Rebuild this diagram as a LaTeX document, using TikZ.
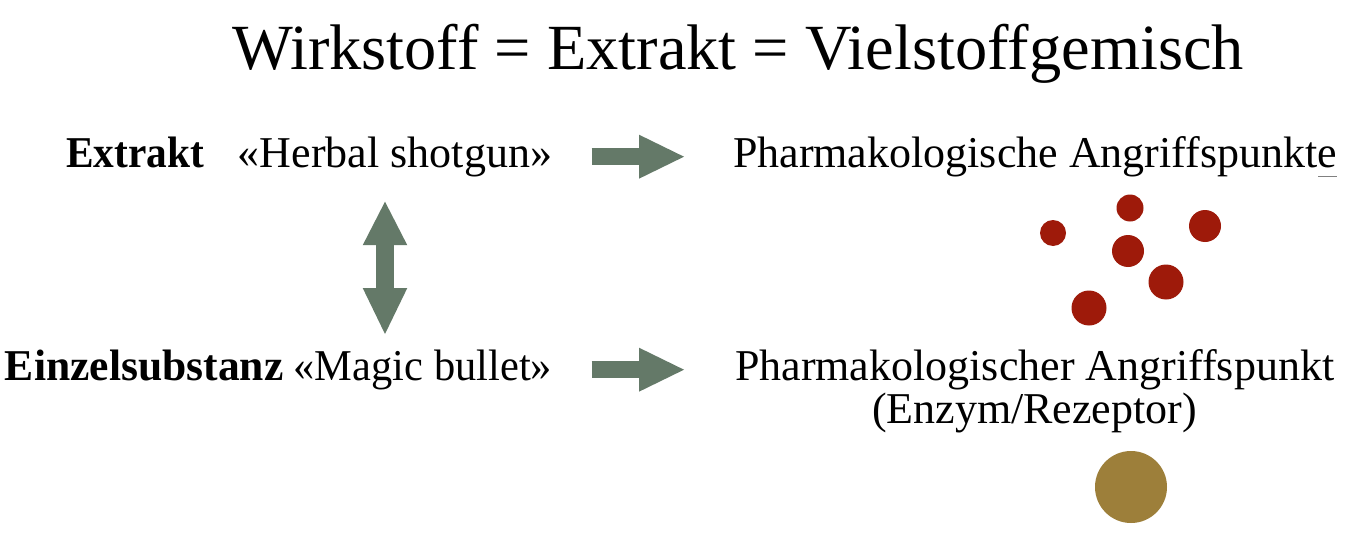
\documentclass[tikz,border=0pt]{standalone}
\usepackage{fontspec}
\setmainfont{Liberation Serif}
\usetikzlibrary{arrows.meta}
\definecolor{arrowgreen}{RGB}{100,121,104}
\definecolor{dotred}{RGB}{158,26,10}
\definecolor{dotgold}{RGB}{157,127,58}
\tikzset{
  txt/.style={inner sep=0pt, outer sep=0pt, font=\fontsize{44}{48}\selectfont},
  titletxt/.style={inner sep=0pt, outer sep=0pt, font=\fontsize{64.4}{70}\selectfont},
  blockarrow/.style={draw=arrowgreen, line width=16.5pt,
    -{Triangle[length=45pt,width=44pt,line width=0pt,fill=arrowgreen]}},
  dblarrow/.style={draw=arrowgreen, line width=18pt,
    {Triangle[length=43.5pt,width=44.6pt,line width=0pt,fill=arrowgreen]}-{Triangle[length=46pt,width=44.6pt,line width=0pt,fill=arrowgreen]}},
  reddot/.style={circle, fill=dotred, draw=none, inner sep=0pt},
  golddot/.style={circle, fill=dotgold, draw=none, inner sep=0pt},
}
\begin{document}
\begin{tikzpicture}[x=1pt,y=-1pt]
\useasboundingbox[fill=white] (0,0) rectangle (1366,535);
% title
\node[titletxt, anchor=base west] (title) at (232,70) {Wirkstoff = Extrakt = Vielstoffgemisch};
% row 1
\node[txt, anchor=base west] (extrakt) at (66,167) {\scalebox{0.94}[1]{\textbf{Extrakt}}};
\node[txt, anchor=base east] (herbal) at (552,167) {«Herbal shotgun»};
\node[txt, anchor=base west] (targets) at (733,167) {Pharmakologische Angriffspunkte};
% row 2
\node[txt, anchor=base west] (einzel) at (5,380) {\scalebox{0.99}[1]{\textbf{Einzelsubstanz}}};
\node[txt, anchor=base east] (magic) at (552,380) {\scalebox{0.965}[1]{«Magic bullet»}};
\node[txt, anchor=base west] (target) at (735,380) {Pharmakologischer Angriffspunkt};
\node[txt, anchor=base] (enzym) at (1034.5,423) {(Enzym/Rezeptor)};
% underline artifact under final e
\coordinate (ul1) at (1318,176.5);
\coordinate (ul2) at (1337,176.5);
\draw[line width=1pt, gray] (ul1) -- (ul2);
% arrows
\coordinate (a1s) at (591.5,156.7);
\coordinate (a1e) at (684,156.7);
\coordinate (a2s) at (591.5,369.7);
\coordinate (a2e) at (684,369.7);
\coordinate (vtop) at (385,201.7);
\coordinate (vbot) at (385,334);
\draw[blockarrow] (a1s) -- (a1e);
\draw[blockarrow] (a2s) -- (a2e);
\draw[dblarrow] (vtop) -- (vbot);
% red dots
\node[reddot, minimum size=26pt] (d1) at (1053,233) {};
\node[reddot, minimum size=27pt] (d2) at (1130,208) {};
\node[reddot, minimum size=32pt] (d3) at (1205,226) {};
\node[reddot, minimum size=32pt] (d4) at (1128,251) {};
\node[reddot, minimum size=35pt] (d5) at (1166,282) {};
\node[reddot, minimum size=35pt] (d6) at (1089,308) {};
% gold dot
\node[golddot, minimum size=72pt] (g1) at (1131,487) {};
\end{tikzpicture}
\end{document}
